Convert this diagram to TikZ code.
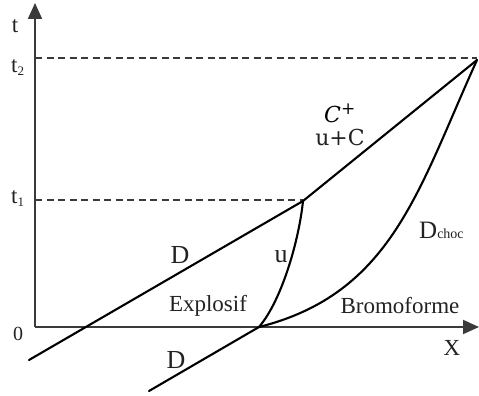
\documentclass[tikz,border=0pt]{standalone}
\usepackage{fontspec}
\setmainfont{Liberation Serif}
\newfontfamily\ucfont{DejaVu Serif}
\usetikzlibrary{arrows.meta}
\definecolor{axisgray}{HTML}{3A3A3A}
\definecolor{txtgray}{HTML}{222222}
\begin{document}
\begin{tikzpicture}[x=1pt,y=-1pt,
  axisline/.style={draw=axisgray,line width=1.9pt,-{Triangle[length=16pt,width=14pt]}},
  guide/.style={draw=axisgray,line width=1.2pt,dash pattern=on 7pt off 4.5pt},
  wave/.style={draw=black,line width=2.1pt,line cap=round},
  lbl/.style={inner sep=0pt,text=txtgray,font=\fontsize{23}{23}\selectfont},
  biglbl/.style={inner sep=0pt,text=txtgray,font=\fontsize{26}{26}\selectfont}]
\useasboundingbox (0,0) rectangle (479,396);
% key points
\coordinate (O) at (35,327);
\coordinate (Ttop) at (35,3);
\coordinate (Xend) at (479,327);
\coordinate (A) at (303,201);
\coordinate (B) at (477,60);
\coordinate (P) at (259,327);
\coordinate (Dstart) at (29,360);
\coordinate (D2start) at (149,391);
\coordinate (Gt2) at (35,58);
\coordinate (Gt1) at (35,200);
\coordinate (Gt2e) at (477,58);
\coordinate (Gt1e) at (303,200);
% guides
\draw[guide] (Gt2) -- (Gt2e);
\draw[guide] (Gt1) -- (Gt1e);
% axes
\draw[axisline] (O) -- (Ttop);
\draw[axisline] (O) -- (Xend);
% characteristics
\draw[wave] (Dstart) -- (A);
\draw[wave] (A) -- (B);
\draw[wave] (D2start) -- (P);
\draw[wave] (P) .. controls (282,300) and (299,240) .. (A);
\draw[wave] (P) .. controls (392,293.5) and (418,190) .. (B);
% labels
\node[lbl,anchor=base] (lt) at (15,33) {t};
\node[lbl,anchor=base west] (lt2) at (11,72) {t\textsubscript{\fontsize{13}{13}\selectfont 2}};
\node[lbl,anchor=base west] (lt1) at (11,203) {t\textsubscript{\fontsize{13}{13}\selectfont 1}};
\node[lbl,anchor=base,font=\fontsize{20}{20}\selectfont] (l0) at (18,340) {0};
\node[biglbl,anchor=base] (lD1) at (180,263) {D};
\node[biglbl,anchor=base] (lD2) at (176,368) {D};
\node[lbl,anchor=base] (lexp) at (208,311) {Explosif};
\node[biglbl,anchor=base] (lu) at (281,262) {u};
\node[lbl,anchor=base] (lbro) at (400,313) {Bromoforme};
\node[biglbl,anchor=base west,font=\fontsize{25}{25}\selectfont] (ldc) at (419,238) {D\raisebox{-0.5pt}{\fontsize{14}{14}\selectfont choc}};
\node[lbl,anchor=base] (lX) at (452,355) {X};
\node[lbl,anchor=base west,font=\ucfont\fontsize{22}{22}\selectfont,text=black] (lC) at (324,122) {\itshape C\upshape\raisebox{8pt}{\fontsize{17}{17}\selectfont +}};
\node[lbl,anchor=base,font=\ucfont\fontsize{22}{22}\selectfont] (luc) at (340,145) {u+C};
\end{tikzpicture}
\end{document}
